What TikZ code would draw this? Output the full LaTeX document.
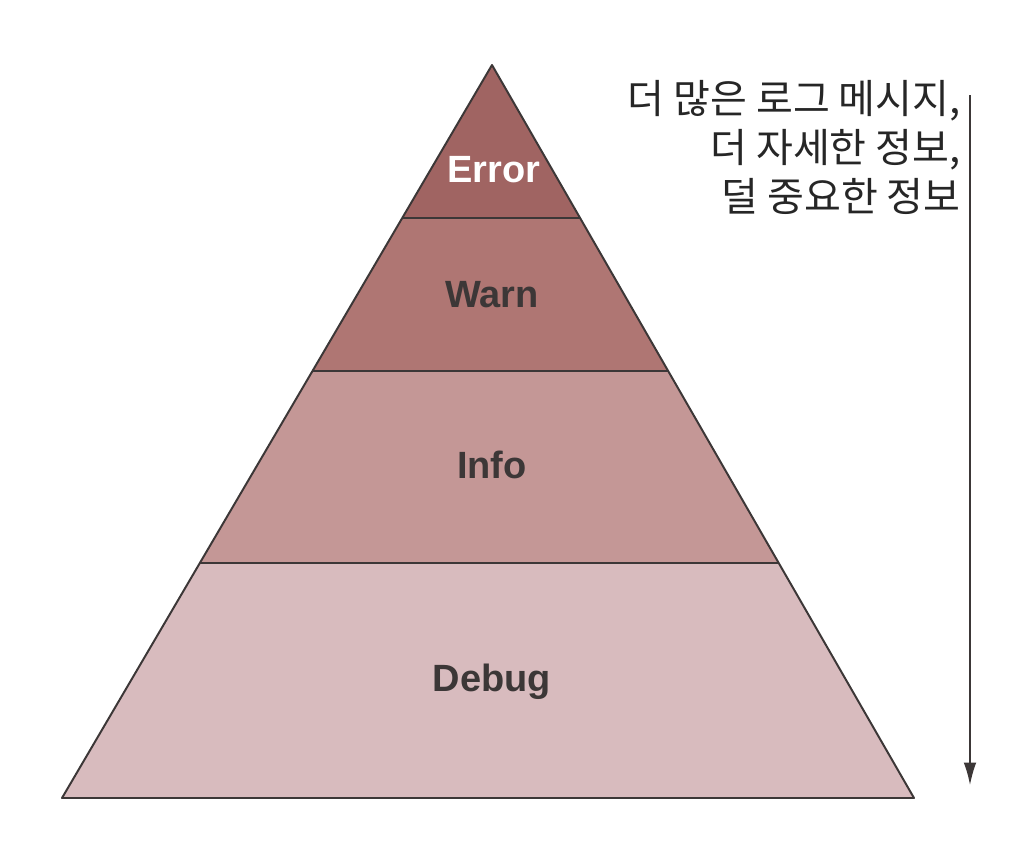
\documentclass[tikz,border=0pt]{standalone}
\usepackage{fontspec}
\setmainfont{Liberation Sans}
\newfontfamily\kofont{Noto Sans CJK KR}
\usetikzlibrary{calc}
\usetikzlibrary{arrows.meta}

\definecolor{errorfill}{RGB}{160,100,98}
\definecolor{warnfill}{RGB}{175,118,115}
\definecolor{infofill}{RGB}{196,151,150}
\definecolor{debugfill}{RGB}{216,187,190}
\definecolor{edgegray}{RGB}{60,55,55}
\definecolor{labelgray}{RGB}{60,55,55}

\begin{document}
\begin{tikzpicture}
		[x=0.025cm, y=-0.025cm, edge/.style = {draw=edgegray, line width=1pt},
		 level/.style = {font=\bfseries\fontsize{27}{30}\selectfont, text=labelgray}]
        \useasboundingbox (0,0) rectangle (1034,842);

        % corners of the pyramid
        \coordinate (top) at (492,65);
        \coordinate (bl) at (62,798);
        \coordinate (br) at (914,798);
        \coordinate (l1) at ($(top)!0.2087!(bl)$);
        \coordinate (r1) at ($(top)!0.2087!(br)$);
        \coordinate (l2) at ($(top)!0.4175!(bl)$);
        \coordinate (r2) at ($(top)!0.4175!(br)$);
        \coordinate (l3) at ($(top)!0.6794!(bl)$);
        \coordinate (r3) at ($(top)!0.6794!(br)$);

        \fill[errorfill] (top) -- (r1) -- (l1) -- cycle;
        \fill[warnfill] (l1) -- (r1) -- (r2) -- (l2) -- cycle;
        \fill[infofill] (l2) -- (r2) -- (r3) -- (l3) -- cycle;
        \fill[debugfill] (l3) -- (r3) -- (br) -- (bl) -- cycle;

        \draw[edge, line width=1.4pt, line join=round] (top) -- (br) -- (bl) -- cycle;
        \draw[edge] (l1) -- (r1);
        \draw[edge] (l2) -- (r2);
        \draw[edge] (l3) -- (r3);

        \node[level, text=white] (error) at (494,170) {Error};
        \node[level] (warn) at (492,295) {Warn};
        \node[level] (info) at (492,465) {Info};
        \node[level] (debug) at (492,682) {Debug};

        % direction arrow
        \coordinate (from) at (970,95);
        \coordinate (to) at (970,785);
        \draw[draw=edgegray, line width=1pt, -{Latex[length=16pt, width=9pt]}] (from) -- (to);

        \node[anchor=north east, align=right, inner sep=0pt, text=black!85,
              font=\kofont\fontsize{28.5}{35}\selectfont] (more) at (961,80)
              {더 많은 로그 메시지,\\더 자세한 정보,\\덜 중요한 정보};
	\end{tikzpicture}
\end{document}
